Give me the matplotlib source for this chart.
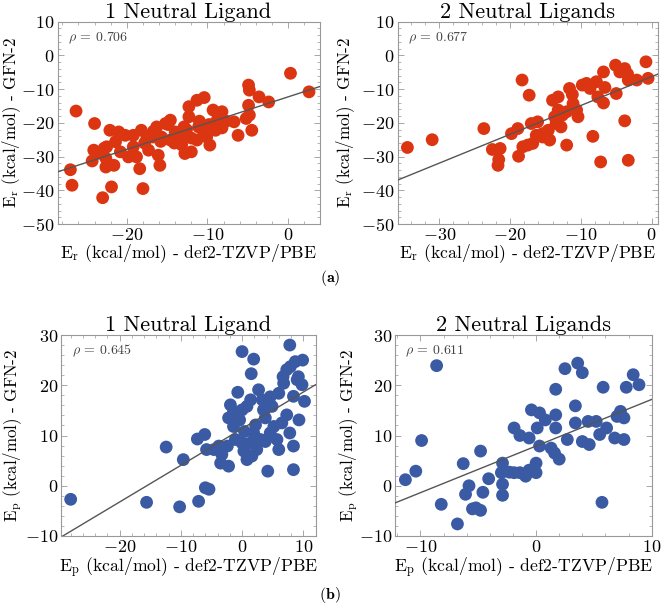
import numpy as np
import matplotlib
matplotlib.use("Agg")
import matplotlib.pyplot as plt
from matplotlib.ticker import MultipleLocator

plt.rcParams['font.family'] = 'serif'
plt.rcParams['font.serif'] = ['cmr10']
plt.rcParams['mathtext.fontset'] = 'cm'
plt.rcParams['axes.formatter.use_mathtext'] = True
plt.rcParams['axes.unicode_minus'] = True

# ---------------- data ----------------
er1_x = [-27.0, -26.8, -26.3, -24.0, -24.1, -24.3, -23.0, -22.6, -21.6, -21.9, -22.1, -21.0, -22.5, -21.4,
         -20.8, -20.2, -19.8, -19.2, -18.8, -19.2, -18.2, -18.4, -18.0, -17.3, -16.8, -16.3, -16.1, -15.9,
         -15.7, -15.2, -14.6, -14.6, -14.0, -13.4, -12.9, -12.8, -12.3, -12.0, -12.3, -11.3, -10.4, -11.1,
         -11.3, -10.1, -9.7, -9.3, -8.8, -8.2, -9.0, -6.7, -6.2, -4.9, -4.8, -4.9, -4.8, -5.2, -4.5, -3.6,
         -2.4, 0.3, 2.6, -17.5, -16.7, -15.8, -14.1, -13.5, -12.6, -12.0, -11.0, -10.6, -9.8, -8.5, -7.7,
         -8.2, -22.8, -23.3, -22.6, -17.8, -14.9, -13.2]
er1_y = [-33.9, -38.5, -16.5, -20.2, -28.1, -31.3, -42.2, -33.1, -32.6, -39.0, -22.2, -22.7, -27.1, -25.6,
         -28.6, -23.7, -30.1, -27.1, -30.1, -23.7, -22.2, -33.6, -39.5, -28.1, -24.2, -21.2, -29.6, -32.6,
         -24.2, -20.2, -19.2, -25.1, -22.7, -24.7, -21.2, -29.1, -18.2, -28.6, -15.2, -13.3, -12.5, -21.2,
         -25.1, -24.2, -26.6, -16.2, -19.2, -16.7, -22.2, -19.7, -23.7, -8.8, -10.3, -14.8, -17.7, -18.7,
         -22.2, -12.3, -13.8, -5.3, -10.8, -24.5, -22.5, -25.5, -26.0, -24.0, -22.0, -24.5, -19.5, -22.0,
         -20.5, -18.5, -19.5, -21.5, -27.5, -29.0, -30.5, -26.0, -20.5, -26.5]

er2_x = [-34.5, -31.0, -23.7, -22.5, -21.4, -21.6, -21.7, -19.8, -18.9, -18.8, -18.3, -17.3, -18.2, -17.5,
         -16.8, -17.0, -16.1, -15.4, -14.6, -14.4, -15.4, -14.0, -13.2, -13.2, -13.7, -12.8, -12.0, -12.0,
         -11.6, -11.2, -11.1, -10.6, -10.4, -9.8, -9.2, -8.7, -7.8, -7.6, -6.8, -6.6, -6.8, -8.3, -7.2,
         -5.1, -4.5, -5.0, -3.8, -3.4, -3.3, -3.8, -3.3, -2.1, -0.8, -0.5, -13.5, -12.6, -16.3]
er2_y = [-27.3, -25.0, -21.7, -27.9, -27.6, -30.9, -32.6, -23.2, -21.7, -29.9, -7.3, -11.8, -27.1, -26.6,
         -26.1, -20.2, -19.7, -23.2, -22.2, -25.1, -24.2, -13.3, -12.3, -16.2, -18.2, -21.2, -26.6, -16.7,
         -9.8, -11.6, -14.3, -16.2, -18.2, -8.8, -8.3, -9.8, -7.8, -12.3, -4.9, -9.5, -14.1, -24.0, -31.6,
         -2.9, -4.9, -11.3, -3.9, -5.5, -7.3, -19.4, -31.1, -7.3, -1.9, -6.8, -20.2, -17.7, -23.7]

ep1_x = [-28.0, -15.6, -10.2, -7.1, -6.0, -5.4, -12.4, -9.6, -7.3, -6.1, -5.8, -4.6, -3.8, -3.3, -3.5,
         -2.2, -2.4, -2.2, -1.4, -1.9, -0.7, 0.0, 1.9, 1.5, 0.0, 0.8, -0.4, 0.4, 0.0, 0.3, 0.8, 1.6, 1.3,
         1.9, 2.7, 3.3, 3.8, 3.0, 4.2, 4.6, 4.9, 5.2, 5.7, 6.0, 6.5, 6.0, 6.7, 7.8, 7.9, 8.7, 9.9, 9.2,
         8.4, 9.8, 10.2, 9.3, 8.4, 8.4, 7.3, 7.8, 3.5, 2.2, 4.6, 6.8, 7.3, 9.0, 1.4, -1.4, -1.1, 2.4, 3.8]
ep1_y = [-2.7, -3.3, -4.2, -3.1, -0.4, -0.7, 7.7, 5.2, 9.3, 10.2, 7.2, 7.2, 7.9, 6.2, 4.5, 3.9, 7.9,
         13.5, 11.8, 16.1, 18.6, 26.7, 25.2, 22.3, 15.1, 15.8, 13.1, 10.8, 8.5, 6.9, 5.2, 5.9, 8.5, 10.5,
         19.1, 17.1, 13.5, 9.2, 2.9, 17.7, 15.8, 11.8, 9.2, 7.2, 12.5, 18.4, 21.7, 28.0, 23.7, 24.7, 25.0,
         21.7, 17.8, 20.1, 16.8, 13.1, 7.9, 3.2, 14.1, 10.5, 15.1, 12.1, 10.5, 20.4, 23.1, 21.1, 17.1,
         14.8, 9.2, 7.2, 8.8]

ep2_x = [-11.3, -10.4, -9.9, -8.6, -8.2, -6.8, -6.3, -5.8, -6.1, -5.5, -5.2, -4.8, -4.8, -4.6, -4.1,
         -2.9, -3.0, -2.9, -2.9, -2.3, -1.9, -1.4, -0.9, -0.6, 0.0, 0.0, -1.9, -1.4, -0.6, 0.1, -0.4, 0.3,
         0.8, 0.3, 1.3, 1.6, 2.0, 1.7, 1.7, 1.7, 2.5, 2.7, 3.4, 3.4, 3.6, 4.0, 4.0, 4.6, 4.5, 5.2, 5.8,
         5.7, 5.5, 6.1, 6.8, 7.0, 7.3, 7.8, 7.6, 7.6, 8.4, 8.9]
ep2_y = [1.2, 2.9, 9.0, 23.9, -3.7, -7.6, 4.4, 0.0, -1.7, -4.6, -4.4, -4.9, 6.9, -1.3, 1.4, 4.5, 2.6,
         0.3, -1.9, 2.7, 2.6, 2.6, 1.9, 3.1, 4.5, 2.6, 11.5, 10.0, 9.5, 11.5, 15.1, 14.5, 13.1, 7.9, 7.5,
         6.5, 5.3, 14.1, 11.5, 19.2, 23.3, 9.2, 15.9, 12.5, 24.4, 22.5, 8.8, 8.2, 12.8, 12.8, 19.6, -3.3,
         10.2, 11.5, 9.5, 13.8, 14.8, 19.6, 13.5, 9.2, 22.1, 20.1]

# fitted lines (slope, intercept)
fit_er1 = (0.778, -12.3)
fit_er2 = (0.855, -6.3)
fit_ep1 = (0.729, 11.35)
fit_ep2 = (0.928, 7.9)

rhos = ["0.706", "0.677", "0.645", "0.611"]
titles = ["1 Neutral Ligand", "2 Neutral Ligands", "1 Neutral Ligand", "2 Neutral Ligands"]

RED = "#DB3512"
BLUE = "#3A5BA4"

fig = plt.figure(figsize=(6.61, 6.06), dpi=100)
W, H = 661, 606

def add_ax(l, r, t, b):
    return fig.add_axes([l / W, 1 - b / H, (r - l) / W, (b - t) / H])

boxes = [(57.5, 319.5, 21.7, 224),
         (397.5, 658, 21.7, 224),
         (61.5, 315.5, 335, 536),
         (395, 651.7, 335, 536)]
axes = [add_ax(*b) for b in boxes]
ylabel_x = [0.5, 334, 1.5, 337]

panels = [
    (er1_x, er1_y, fit_er1, RED, (-28.6, 3.9), (-50, 10), 'r'),
    (er2_x, er2_y, fit_er2, RED, (-35.9, 0.9), (-50, 10), 'r'),
    (ep1_x, ep1_y, fit_ep1, BLUE, (-29.5, 12.0), (-10, 30), 'p'),
    (ep2_x, ep2_y, fit_ep2, BLUE, (-12.2, 10.0), (-10, 30), 'p'),
]

for i, (ax, (xs, ys, fit, col, xl, yl, sub), rho, title) in enumerate(zip(axes, panels, rhos, titles)):
    ax.scatter(xs, ys, s=85, color=col, edgecolors='none', zorder=2)
    lx = np.array(xl)
    ax.plot(lx, fit[0] * lx + fit[1], color='#555555', lw=1.0, zorder=3)
    ax.set_xlim(*xl)
    ax.set_ylim(*yl)
    ax.xaxis.set_major_locator(MultipleLocator(10))
    ax.yaxis.set_major_locator(MultipleLocator(10))
    ax.xaxis.set_minor_locator(MultipleLocator(2))
    ax.yaxis.set_minor_locator(MultipleLocator(2))
    ax.tick_params(which='both', direction='in', top=True, right=True, color='#999999',
                   labelsize=13, pad=2)
    ax.tick_params(which='major', length=4, width=0.6)
    ax.tick_params(which='minor', length=2, width=0.5)
    for sp in ax.spines.values():
        sp.set_color('#999999')
        sp.set_linewidth(0.8)
    ax.set_title(title, fontsize=16, pad=0)
    ax.set_xlabel(r'$\mathrm{E}_\mathrm{%s}$ (kcal/mol) - def2-TZVP/PBE' % sub, fontsize=12.7, labelpad=0)
    l, r, t, b = boxes[i]
    fig.text(ylabel_x[i] / W, 1 - (t + b) / 2 / H,
             r'$\mathrm{E}_\mathrm{%s}$ (kcal/mol) - GFN-2' % sub, fontsize=12.2,
             rotation=90, ha='left', va='center')
    ax.text(0.04, 0.92, r'$\rho$ = %s' % rho, transform=ax.transAxes, fontsize=10,
            color='#444444', ha='left', va='center')

fig.text(330 / W, 1 - 278 / H, r'$\mathbf{(a)}$', ha='center', va='center', fontsize=11.5)
fig.text(330 / W, 1 - 595 / H, r'$\mathbf{(b)}$', ha='center', va='center', fontsize=11.5)

fig.savefig("out.png", dpi=100)
